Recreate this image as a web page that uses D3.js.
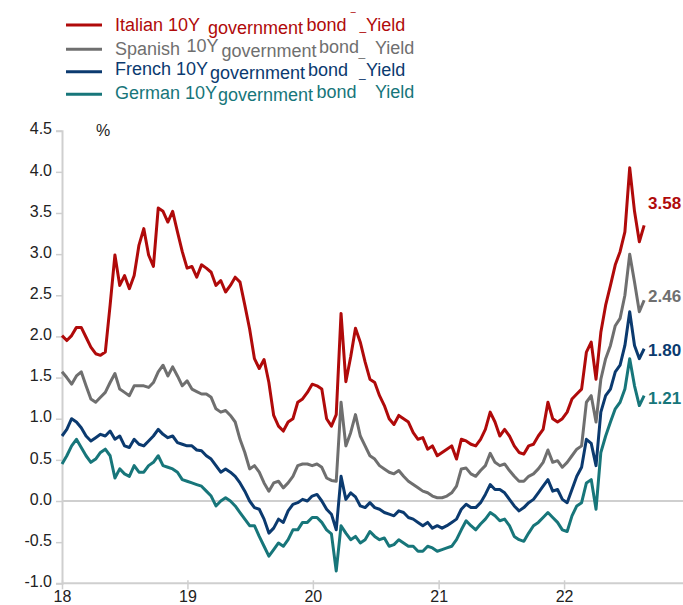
<html>
    <head>
        <meta charset="utf-8">
        <title>10Y government bond yields</title>
        <!-- Load d3.js -->
        <script src="https://d3js.org/d3.v7.min.js"></script>
        <style>
            body { margin: 0; background: #fff; }
            text { font-family: "Liberation Sans", Arial, sans-serif; }
        </style>
    </head>
    <body>
        <div id="bond_chart"></div>
        <script>
            // Input data: one reading every two weeks from the first week of 2018
            var startDate = "2018-01-01"
            var stepDays = 14

            var italy = [2.01,1.95,2.01,2.11,2.11,1.99,1.87,1.79,1.77,1.81,2.38,2.99,2.62,2.74,2.58,2.74,3.11,3.31,2.99,2.85,
                3.56,3.52,3.39,3.52,3.27,3.03,2.83,2.85,2.72,2.87,2.83,2.78,2.62,2.68,2.54,2.62,2.72,2.66,2.38,2.09,
                1.73,1.61,1.72,1.44,1.04,0.91,0.85,0.96,1.00,1.20,1.24,1.32,1.42,1.40,1.36,1.00,0.91,1.05,2.28,1.45,
                1.75,2.10,1.93,1.69,1.48,1.44,1.28,1.16,1.00,0.93,1.04,1.00,0.96,0.83,0.75,0.77,0.63,0.67,0.55,0.59,
                0.63,0.67,0.51,0.75,0.73,0.69,0.67,0.75,0.87,1.08,0.96,0.79,0.87,0.79,0.67,0.59,0.57,0.67,0.69,0.79,
                0.87,1.20,1.00,0.96,1.00,1.08,1.24,1.30,1.36,1.81,1.93,1.48,2.05,2.38,2.62,2.87,3.03,3.27,4.05,3.52,
                3.15,3.35]
            var spain = [1.57,1.50,1.42,1.52,1.57,1.40,1.24,1.20,1.26,1.32,1.44,1.55,1.36,1.32,1.28,1.40,1.40,1.40,1.38,1.44,
                1.57,1.65,1.52,1.63,1.52,1.40,1.46,1.36,1.33,1.30,1.30,1.26,1.12,1.08,1.10,1.04,0.96,0.75,0.59,0.39,
                0.43,0.35,0.22,0.12,0.22,0.24,0.16,0.22,0.30,0.43,0.45,0.45,0.43,0.45,0.41,0.28,0.25,0.24,1.20,0.67,
                0.83,1.05,0.79,0.67,0.55,0.51,0.43,0.39,0.35,0.33,0.37,0.30,0.24,0.20,0.16,0.12,0.10,0.06,0.04,0.04,
                0.06,0.10,0.18,0.39,0.40,0.33,0.30,0.37,0.43,0.58,0.47,0.43,0.45,0.37,0.30,0.24,0.24,0.30,0.33,0.39,
                0.47,0.62,0.47,0.49,0.41,0.47,0.55,0.63,0.67,1.20,1.28,0.96,1.48,1.73,1.89,2.13,2.22,2.50,3.00,2.66,
                2.30,2.44]
            var france = [0.79,0.87,1.00,0.96,0.89,0.79,0.73,0.77,0.81,0.79,0.85,0.75,0.79,0.67,0.65,0.75,0.69,0.67,0.73,0.79,
                0.87,0.81,0.77,0.79,0.71,0.69,0.67,0.67,0.62,0.61,0.55,0.51,0.43,0.35,0.39,0.35,0.30,0.22,0.12,0.00,
                -0.08,-0.10,-0.22,-0.39,-0.33,-0.22,-0.26,-0.12,-0.04,-0.02,0.02,0.00,0.06,0.08,0.00,-0.10,-0.16,-0.35,0.30,0.02,
                0.10,0.05,-0.06,-0.08,-0.02,-0.08,-0.10,-0.14,-0.16,-0.18,-0.12,-0.14,-0.20,-0.22,-0.26,-0.30,-0.26,-0.33,-0.30,-0.33,
                -0.30,-0.26,-0.22,-0.10,-0.04,-0.08,-0.08,-0.02,0.08,0.20,0.14,0.14,0.10,0.02,-0.06,-0.12,-0.08,-0.02,0.02,0.10,
                0.18,0.26,0.12,0.14,0.02,-0.02,0.14,0.30,0.41,0.75,0.70,0.43,1.08,1.28,1.36,1.57,1.65,1.89,2.30,1.89,
                1.73,1.85]
            var germany = [0.45,0.55,0.67,0.75,0.65,0.55,0.47,0.51,0.59,0.63,0.55,0.28,0.39,0.33,0.30,0.43,0.35,0.35,0.43,0.47,
                0.55,0.43,0.41,0.39,0.35,0.26,0.24,0.22,0.20,0.18,0.12,0.06,-0.06,0.00,0.04,0.00,-0.06,-0.14,-0.22,-0.30,
                -0.30,-0.43,-0.55,-0.67,-0.59,-0.51,-0.55,-0.47,-0.35,-0.35,-0.26,-0.26,-0.20,-0.20,-0.26,-0.35,-0.40,-0.85,-0.30,-0.39,
                -0.47,-0.43,-0.51,-0.47,-0.37,-0.43,-0.47,-0.45,-0.55,-0.53,-0.47,-0.51,-0.55,-0.55,-0.61,-0.61,-0.55,-0.57,-0.61,-0.59,
                -0.57,-0.55,-0.47,-0.35,-0.24,-0.30,-0.35,-0.28,-0.22,-0.14,-0.18,-0.24,-0.22,-0.30,-0.43,-0.47,-0.49,-0.39,-0.30,-0.26,
                -0.20,-0.14,-0.20,-0.26,-0.35,-0.37,-0.18,-0.06,-0.02,0.22,0.26,-0.10,0.59,0.79,0.96,1.12,1.20,1.36,1.73,1.40,
                1.16,1.28]

            // latest values printed at the end of each line
            var lastLabels = ["3.58", "2.46", "1.80", "1.21"]

            var seriesNames = ["Italian", "Spanish", "French", "German"]
            var colors = ["#b00a0a", "#6f6f6f", "#0b3a6f", "#17767a"]

            // axis ticks
            var yTicks = [-1.0, -0.5, 0.0, 0.5, 1.0, 1.5, 2.0, 2.5, 3.0, 3.5, 4.0, 4.5]
            var xTickYears = ["18", "19", "20", "21", "22"]

            var wth = 683
                ht = 605

            var svg = d3.select("#bond_chart")
            .append("svg")
                .attr("width", wth)
                .attr("height", ht)

            var parse = d3.timeParse("%Y-%m-%d")
            var t0 = parse(startDate)
            var dates = italy.map(function(d, i){ return d3.timeDay.offset(t0, i * stepDays) })

            var x = d3.scaleTime()
                .domain([parse("2018-01-01"), parse("2023-01-01")])
                .range([62, 689.5])
            var y = d3.scaleLinear()
                .domain([-1, 4.5])
                .range([583.3, 130.7])

            var grey = "#cfcfcf"

            // y axis
            var yAxis = svg.append("g")
                .attr("transform", "translate(62,0)")
                .call(d3.axisLeft(y).tickValues(yTicks).tickFormat(d3.format(".1f")).tickSize(6).tickPadding(4))
            yAxis.select(".domain").attr("stroke", grey).attr("stroke-width", 2)
            yAxis.selectAll(".tick line").attr("stroke", grey).attr("stroke-width", 1.5)
            yAxis.selectAll(".tick text")
                .attr("fill", "#222")
                .style("font-size", "16px")
                .attr("dy", "0.2em")
                .text(function(d){ return d3.format(".1f")(d).replace("\u2212", "-") })

            // zero line
            svg.append("line")
                .attr("x1", 62).attr("x2", wth)
                .attr("y1", y(0)).attr("y2", y(0))
                .attr("stroke", grey).attr("stroke-width", 2)

            // x axis
            var xAxis = svg.append("g")
                .attr("transform", "translate(0," + y(-1) + ")")
                .call(d3.axisBottom(x)
                    .tickValues(xTickYears.map(function(s){ return parse("20" + s + "-01-01") }))
                    .tickFormat(d3.timeFormat("%y"))
                    .tickSize(6).tickPadding(1))
            xAxis.select(".domain").remove()
            xAxis.append("line")
                .attr("x1", 62).attr("x2", wth)
                .attr("stroke", grey).attr("stroke-width", 2)
            xAxis.selectAll(".tick line").attr("stroke", grey).attr("stroke-width", 1.5).attr("y1", -3)
            xAxis.selectAll(".tick text").attr("fill", "#222").style("font-size", "16px")

            // percent sign
            svg.append("text")
                .attr("x", 96).attr("y", 136)
                .style("font-size", "16px").attr("fill", "#222")
                .text("%")

            // lines
            var allSeries = [italy, spain, france, germany]
            var line = d3.line()
                .x(function(d, i){ return x(dates[i]) })
                .y(function(d){ return y(d) })

            for (var k = allSeries.length - 1; k >= 0; k--) {
                svg.append("path")
                    .datum(allSeries[k])
                    .attr("d", line)
                    .attr("fill", "none")
                    .attr("stroke", colors[k])
                    .attr("stroke-width", 3)
                    .attr("stroke-linejoin", "round")
            }

            // end labels
            svg.selectAll("endLabels")
            .data(lastLabels)
            .enter()
            .append("text")
                .attr("x", 648)
                .attr("y", function(d){ return y(+d) + 3 })
                .attr("fill", function(d, i){ return colors[i] })
                .style("font-size", "17px")
                .style("font-weight", "bold")
                .text(function(d){ return d })

            // legend (the source text sits on uneven baselines)
            var legendRows = [
                {line: 25, parts: [["Italian 10Y", 115, 30.7, 18], ["government", 208, 33.5, 18], ["bond", 306.5, 30.7, 18], ["\u203E", 351, 22, 13], ["_", 359.5, 30, 12], ["Yield", 366, 30.7, 18]]},
                {line: 49.3, parts: [["Spanish", 115, 55, 18], ["10Y", 186.5, 51.7, 18], ["government", 221.5, 56.7, 18], ["bond", 319, 53.3, 18], ["_", 358.5, 55.5, 12], ["Yield", 375, 54, 18]]},
                {line: 71.7, parts: [["French 10Y", 115, 75, 18], ["government", 210, 79, 18], ["bond", 308, 76, 18], ["_", 359, 77, 12], ["Yield", 366, 76, 18]]},
                {line: 94.3, parts: [["German 10Y", 115, 99, 18], ["government", 218, 101, 18], ["bond", 316.5, 98.3, 18], ["Yield", 375, 98.3, 18]]}
            ]

            legendRows.forEach(function(row, i) {
                svg.append("line")
                    .attr("x1", 66).attr("x2", 102)
                    .attr("y1", row.line).attr("y2", row.line)
                    .attr("stroke", colors[i]).attr("stroke-width", 3)
                svg.selectAll("legendText" + i)
                .data(row.parts)
                .enter()
                .append("text")
                    .attr("x", function(d){ return d[1] })
                    .attr("y", function(d){ return d[2] })
                    .attr("fill", colors[i])
                    .style("font-size", function(d){ return d[3] + "px" })
                    .text(function(d){ return d[0] })
            })
        </script>
    </body>
</html>
